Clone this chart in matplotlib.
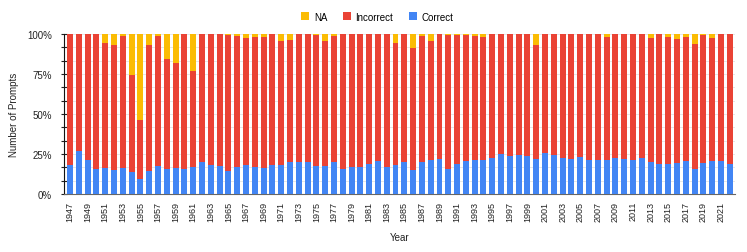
import matplotlib.pyplot as plt
from matplotlib.ticker import MultipleLocator, PercentFormatter
import numpy as np

plt.rcParams["font.family"] = ["Liberation Sans", "DejaVu Sans"]

years = list(range(1947, 2023))

# share of prompts per year (percent)
correct = [
    18.3, 26.7, 21.5, 15.6, 16.3, 15.0, 16.3, 13.8, 9.2, 14.6,
    17.5, 15.6, 16.3, 15.6, 16.7, 20.0, 18.3, 17.5, 14.6, 16.7,
    18.3, 16.7, 16.3, 18.3, 17.9, 20.2, 20.2, 20.2, 17.5, 17.5,
    20.2, 15.4, 17.1, 17.1, 18.8, 20.6, 16.7, 17.9, 19.8, 15.2,
    19.8, 21.3, 21.9, 15.8, 18.8, 20.6, 21.5, 21.5, 22.7, 25.0,
    23.5, 24.4, 23.5, 21.9, 25.4, 24.4, 22.3, 21.9, 22.9, 21.5,
    21.5, 21.0, 22.3, 21.9, 21.0, 22.3, 19.8, 18.8, 18.8, 19.6,
    20.6, 15.8, 19.4, 20.4, 20.6, 18.8,
]
na = [
    0, 0, 0, 0, 5.4, 6.9, 1.0, 25.4, 53.5, 6.7,
    1.0, 15.8, 17.9, 0, 23.3, 0, 0, 0, 0.6, 1.0,
    2.7, 2.0, 1.7, 0, 4.2, 3.8, 0, 0, 0.6, 4.6,
    1.5, 0, 0, 0, 0, 0, 0, 5.4, 0, 9.0,
    1.5, 4.2, 0, 0.4, 0.4, 0.6, 1.3, 1.7, 0, 0,
    0, 0, 0, 6.7, 0, 0, 0, 0, 0, 0,
    0, 1.7, 0, 0, 0, 0, 2.3, 0, 1.7, 3.1,
    1.7, 6.5, 0.6, 2.3, 0, 0,
]
incorrect = [100 - c - n for c, n in zip(correct, na)]

c_correct = "#4285F4"
c_incorrect = "#EA4335"
c_na = "#FBBC04"

fig = plt.figure(figsize=(7.47, 2.53), dpi=100)
ax = fig.add_axes([0.0857, 0.229, 0.898, 0.633])

x = np.arange(len(years))
w = 0.68
b1 = ax.bar(x, correct, w, color=c_correct, zorder=3)
b2 = ax.bar(x, incorrect, w, bottom=correct, color=c_incorrect, zorder=3)
b3 = ax.bar(x, na, w, bottom=np.array(correct) + np.array(incorrect), color=c_na, zorder=3)

ax.set_xlim(-0.68, len(years) - 0.43)
ax.set_ylim(0, 100)

ax.yaxis.set_major_locator(MultipleLocator(25))
ax.yaxis.set_minor_locator(MultipleLocator(25 / 3))
ax.yaxis.set_major_formatter(PercentFormatter(decimals=0))
ax.grid(axis="y", which="both", color="#e3e3e3", lw=0.6, zorder=0)

ax.set_xticks(x[::2])
ax.set_xticklabels([str(y) for y in years[::2]], rotation=90, fontsize=6.5, color="#222222")
ax.tick_params(axis="x", length=0, pad=5)
ax.tick_params(axis="y", which="both", direction="inout", length=5, width=0.8,
               labelsize=7, colors="#222222", pad=6)
ax.tick_params(axis="y", which="minor", length=4)

for side in ["top", "right"]:
    ax.spines[side].set_visible(False)
ax.spines["left"].set_color("#111111")
ax.spines["bottom"].set_color("#666666")

ax.set_ylabel("Number of Prompts", fontsize=7, color="#222222", labelpad=6)
ax.set_xlabel("Year", fontsize=7, color="#222222", labelpad=8)

fig.legend([b3, b2, b1], ["NA", "Incorrect", "Correct"], loc="upper center",
           bbox_to_anchor=(0.505, 0.985), ncol=3, frameon=False, fontsize=7,
           handlelength=0.8, handleheight=0.9, handletextpad=0.5, columnspacing=1.6)

fig.savefig("out.png", dpi=100)
